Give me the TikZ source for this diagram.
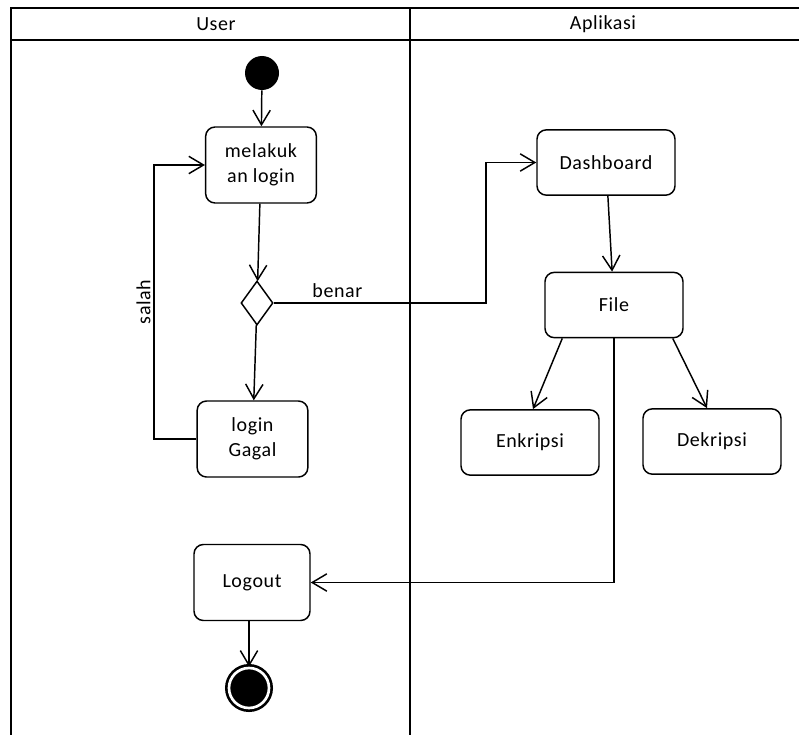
\documentclass[tikz,border=0pt]{standalone}
\usepackage{fontspec}
\setmainfont[LetterSpace=3]{Carlito}
\usetikzlibrary{arrows.meta,shapes.geometric,calc}

\begin{document}
\begin{tikzpicture}[x=0.75pt,y=-0.75pt,
    font=\fontsize{15}{19}\selectfont,
    act/.style={draw, rounded corners=7pt, line width=1.1pt, align=center,
        minimum width=83pt, minimum height=57pt},
    wideact/.style={act, minimum width=103.5pt, minimum height=49pt},
    flow/.style={line width=1.1pt, -{Straight Barb[length=11pt,width=13pt]}},
    lane/.style={line width=2pt}]
    \useasboundingbox (0,0) rectangle (799,735);

    % swimlanes
    \draw[lane](10,8)--(799,8);
    \draw[lane](10,40)--(799,40);
    \draw[lane](11,8)--(11,735);
    \draw[lane](410,8)--(410,735);
    \node (user) at (216,24) {User};
    \node (apl) at (603,24) {Aplikasi};

    % user lane
    \node[circle, fill=black, minimum size=25.5pt, inner sep=0] (start) at (262,73) {};
    \node[act] (login) at (261,165) {melakuk\\an login};
    \node[diamond, draw, line width=1.1pt, inner sep=0, aspect=0.73,
        minimum width=24pt, minimum height=33pt] (dec) at (257,303) {};
    \node[act] (gagal) at (252.5,439) {login\\Gagal};
    \node[act, minimum width=87pt] (logout) at (252,582.5) {Logout};
    \node[circle, fill=black, draw, double=white, double distance=2pt, line width=2pt,
        minimum size=30pt, inner sep=0] (end) at (249,688) {};

    % aplikasi lane
    \node[wideact] (dash) at (606,162.5) {Dashboard};
    \node[wideact] (file) at (614,305) {File};
    \node[wideact] (enk) at (530,442.5) {Enkripsi};
    \node[wideact] (dek) at (712,441.5) {Dekripsi};

    \coordinate (back) at (154,439);
    \coordinate (bend) at (486,303);

    \draw[flow](start)--(login);
    \draw[flow](login)--(dec);
    \draw[flow](dec)--(gagal);
    \draw[flow](gagal.west)--(back)--node[rotate=90, above, inner sep=2pt]{salah}(back |- login.west)--(login.west);
    \draw[flow](dec.east)--node[above, pos=0.3]{benar}(bend)|-(dash.west);
    \draw[flow](dash)--(file);
    \draw[flow]($(file.south west)+(18,0)$)--($(enk.north)+(3,0)$);
    \draw[flow]($(file.south east)+(-11,0)$)--($(dek.north)+(-5,0)$);
    \draw[flow](file.south)|-(logout.east);
    \draw[flow](logout.south -| end)--(end);
\end{tikzpicture}
\end{document}
